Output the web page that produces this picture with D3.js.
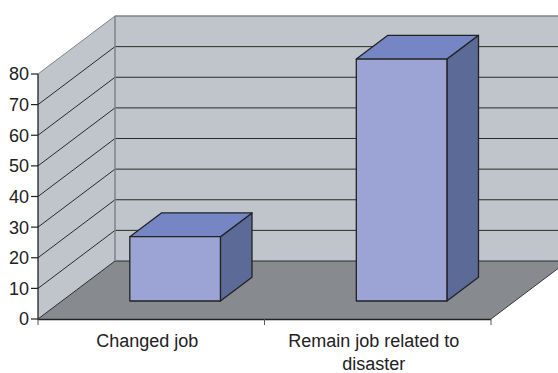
<!DOCTYPE html>
<html>
<head>
<meta charset="utf-8">
<script src="https://cdn.jsdelivr.net/npm/d3@7"></script>
<style>
  html, body { margin: 0; padding: 0; background: #ffffff; }
  svg { display: block; }
  text { font-family: "Liberation Sans", Arial, sans-serif; fill: #222; }
</style>
</head>
<body>
<svg id="chart" width="558" height="373"></svg>
<script>
const categories = ["Changed job", "Remain job related to disaster"];
const values = [21, 79];
const yTicks = [0, 10, 20, 30, 40, 50, 60, 70, 80];

const W = 558, H = 373;
const svg = d3.select("#chart");

// front plane geometry
const x = d3.scaleBand().domain(categories).range([38, 491]).paddingInner(0.6).paddingOuter(0.3);
const y = d3.scaleLinear().domain([0, 80]).range([319, 74]);
const depthX = 77, depthY = -58; // oblique projection of full depth
const xLeft = x.range()[0], xRight = x.range()[1];
const P = (px, py, f) => [px + depthX * f, py + depthY * f];

const wallFill = "#c0c4cb", floorFill = "#878b90", edgeGray = "#7f8286", gridCol = "#2a2a2a";

// back wall
const bw0 = P(xLeft, y(80), 1), bw1 = P(xRight + 40, y(0), 1);
svg.append("rect").attr("x", bw0[0]).attr("y", bw0[1]).attr("width", W - bw0[0] + 20)
  .attr("height", bw1[1] - bw0[1]).attr("fill", wallFill);

// left wall
svg.append("polygon").attr("points", [
  P(xLeft, y(80), 0), P(xLeft, y(80), 1), P(xLeft, y(0), 1), P(xLeft, y(0), 0)
].map(p => p.join(",")).join(" ")).attr("fill", wallFill);

// floor
svg.append("polygon").attr("points", [
  P(xLeft, y(0), 0), P(xRight, y(0), 0), P(xRight, y(0), 1), P(xLeft, y(0), 1)
].map(p => p.join(",")).join(" ")).attr("fill", floorFill);
// floor right edge
svg.append("line").attr("x1", xRight).attr("y1", y(0)).attr("x2", P(xRight, y(0), 1)[0]).attr("y2", P(xRight, y(0), 1)[1])
  .attr("stroke", "#3a3a3a").attr("stroke-width", 1);

// gridlines on back wall and left wall
yTicks.forEach(v => {
  const a = P(xLeft, y(v), 0), b = P(xLeft, y(v), 1);
  const isTop = v === 80;
  svg.append("line").attr("x1", a[0]).attr("y1", a[1]).attr("x2", b[0]).attr("y2", b[1])
    .attr("stroke", isTop ? edgeGray : gridCol).attr("stroke-width", 1);
  svg.append("line").attr("x1", b[0]).attr("y1", b[1]).attr("x2", W + 20).attr("y2", b[1])
    .attr("stroke", isTop ? edgeGray : gridCol).attr("stroke-width", isTop ? 1.5 : 1);
});
// back wall left edge
const bl0 = P(xLeft, y(80), 1), bl1 = P(xLeft, y(0), 1);
svg.append("line").attr("x1", bl0[0]).attr("y1", bl0[1]).attr("x2", bl1[0]).attr("y2", bl1[1])
  .attr("stroke", edgeGray).attr("stroke-width", 1.5);

// bars (3D boxes)
const f0 = 0.31, f1 = 0.72;
const barG = svg.append("g");
categories.forEach((c, i) => {
  const x0 = x(c), x1 = x(c) + x.bandwidth();
  const yT = y(values[i]), yB = y(0);
  const g = barG.append("g").attr("stroke", "#222").attr("stroke-width", 1.3).attr("stroke-linejoin", "round");
  const pts = arr => arr.map(p => p.join(",")).join(" ");
  // right side
  g.append("polygon").attr("points", pts([P(x1, yT, f0), P(x1, yT, f1), P(x1, yB, f1), P(x1, yB, f0)])).attr("fill", "#5b6a96");
  // top
  g.append("polygon").attr("points", pts([P(x0, yT, f0), P(x0, yT, f1), P(x1, yT, f1), P(x1, yT, f0)])).attr("fill", "#7686c4");
  // front
  g.append("polygon").attr("points", pts([P(x0, yT, f0), P(x1, yT, f0), P(x1, yB, f0), P(x0, yB, f0)])).attr("fill", "#9ba4d5");
});

// y axis
const yAxis = svg.append("g");
yAxis.append("line").attr("x1", xLeft).attr("x2", xLeft).attr("y1", y(80)).attr("y2", y(0) + 1)
  .attr("stroke", "#222").attr("stroke-width", 1.3);
yTicks.forEach(v => {
  yAxis.append("line").attr("x1", xLeft - 7).attr("x2", xLeft).attr("y1", y(v)).attr("y2", y(v))
    .attr("stroke", "#222").attr("stroke-width", 1.2);
  yAxis.append("text").attr("x", xLeft - 9).attr("y", y(v)).attr("dy", "0.36em")
    .attr("text-anchor", "end").attr("font-size", 18).text(v);
});

// x axis
const xAxis = svg.append("g");
xAxis.append("line").attr("x1", xLeft).attr("x2", xRight).attr("y1", y(0) + 0.5).attr("y2", y(0) + 0.5)
  .attr("stroke", "#222").attr("stroke-width", 1.5);
const step = x.step();
[0, 1, 2].forEach(k => {
  const tx = xLeft + k * step;
  xAxis.append("line").attr("x1", tx).attr("x2", tx).attr("y1", y(0)).attr("y2", y(0) + 6)
    .attr("stroke", "#555").attr("stroke-width", 1);
});
const labelLines = [["Changed job"], ["Remain job related to", "disaster"]];
categories.forEach((c, i) => {
  const cx = x(c) + x.bandwidth() / 2 - 4;
  const t = xAxis.append("text").attr("x", cx).attr("y", 347).attr("text-anchor", "middle").attr("font-size", 18);
  labelLines[i].forEach((ln, j) => {
    t.append("tspan").attr("x", cx).attr("dy", j === 0 ? 0 : 23).text(ln);
  });
});
</script>
</body>
</html>
